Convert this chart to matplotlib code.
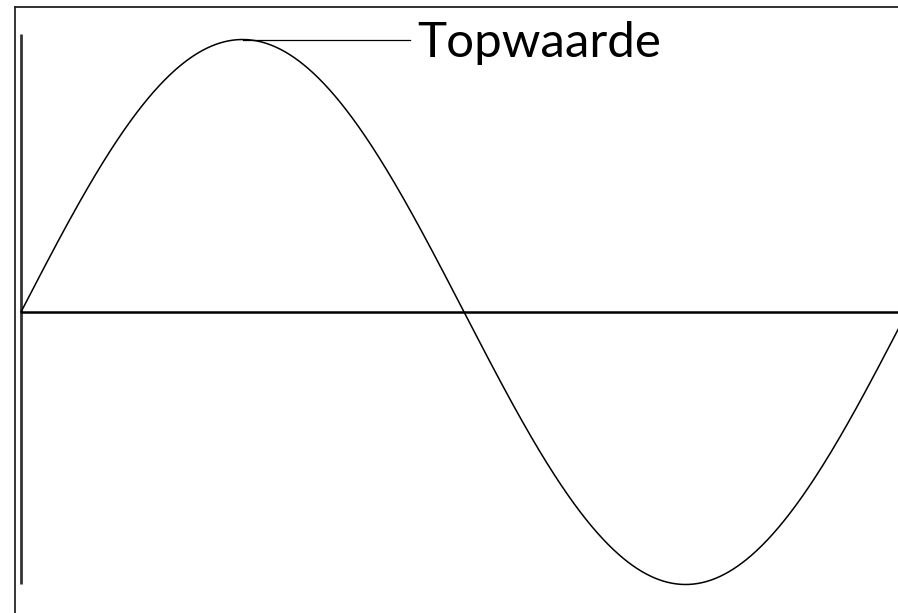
import matplotlib
matplotlib.use("Agg")
from matplotlib import pyplot as plt
from matplotlib.lines import Line2D
import numpy as np

# Sine wave: phase angle in degrees, amplitude normalised to 1
amplitude = 1.0
period_deg = 360.0
x_end_deg = 356.3
label = "Topwaarde"
label_pos = (161.0, 0.937)
leader_end_deg = 158.0
v_axis_range = (-1.0, 1.02)

phase = np.linspace(0, x_end_deg, 800)
signal = amplitude * np.sin(2 * np.pi * phase / period_deg)

fig = plt.figure(figsize=(8.98, 6.13), dpi=100)
ax = fig.add_axes([0, 0, 1, 1])
ax.set_xlim(-8.53, x_end_deg)
ax.set_ylim(-1.1046, 1.145)
ax.axis("off")

# outer frame (left and top only, rest is cropped)
fig.add_artist(Line2D([14.5 / 898, 14.5 / 898], [0, 1 - 7 / 613], color="black", lw=1.1))
fig.add_artist(Line2D([14.5 / 898, 1], [1 - 7 / 613, 1 - 7 / 613], color="#222222", lw=1.3))

# axes of the graph
ax.plot([0, 0], v_axis_range, color="#333333", lw=2.0, solid_capstyle="butt")
ax.plot([0, x_end_deg], [0, 0], color="black", lw=1.8, solid_capstyle="butt")

ax.plot(phase, signal, color="black", lw=1.1)

# peak annotation
peak_deg = period_deg / 4
ax.plot([peak_deg, leader_end_deg], [amplitude, amplitude], color="black", lw=0.9)
ax.text(label_pos[0], label_pos[1], label, fontsize=35.5, family="Lato",
        ha="left", va="baseline")

fig.savefig("out.png", dpi=100)
